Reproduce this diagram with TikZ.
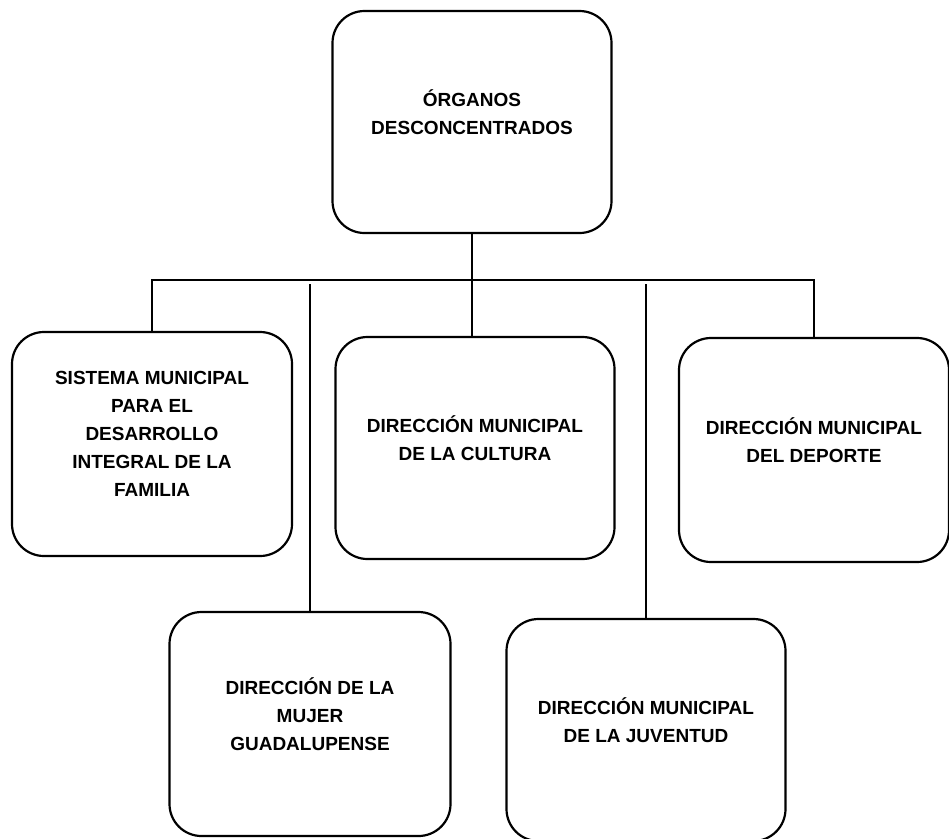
\documentclass[tikz,border=0pt]{standalone}
\usepackage{fontspec}
\setmainfont{Liberation Sans}
\usetikzlibrary{positioning}
\tikzset{caja/.style={draw, line width=2.2pt, rounded corners=32pt, align=center, inner sep=0pt,
  minimum width=279pt, minimum height=222pt, text depth=20pt,
  font=\bfseries\fontsize{19}{28}\selectfont},
  enlace/.style={line width=1.1pt}}
\begin{document}
\begin{tikzpicture}[x=1pt,y=-1pt]
   \useasboundingbox (0,0) rectangle (949,838);
   \node[caja] (organos) at (472,122) {ÓRGANOS\\DESCONCENTRADOS};
   \node[caja, minimum width=280pt, minimum height=224pt] (dif) at (152,444) {SISTEMA MUNICIPAL\\PARA EL\\DESARROLLO\\INTEGRAL DE LA\\FAMILIA};
   \node[caja] (cultura) at (475,448) {DIRECCIÓN MUNICIPAL\\DE LA CULTURA};
   \node[caja, minimum width=270pt, minimum height=224pt] (deporte) at (814,450) {DIRECCIÓN MUNICIPAL\\DEL DEPORTE};
   \node[caja, minimum width=281pt, minimum height=224pt] (mujer) at (310,724) {DIRECCIÓN DE LA\\MUJER\\GUADALUPENSE};
   \node[caja] (juventud) at (646,730) {DIRECCIÓN MUNICIPAL\\DE LA JUVENTUD};
   \coordinate (bus) at (472,280);
   \coordinate (tope) at (0,284);
   \draw[enlace] (organos.south) -- (organos.south |- cultura.north);
   \draw[enlace] (dif.north) |- (bus) -| (deporte.north);
   \draw[enlace] (mujer.north) -- (mujer.north |- tope);
   \draw[enlace] (juventud.north) -- (juventud.north |- tope);
\end{tikzpicture}
\end{document}
